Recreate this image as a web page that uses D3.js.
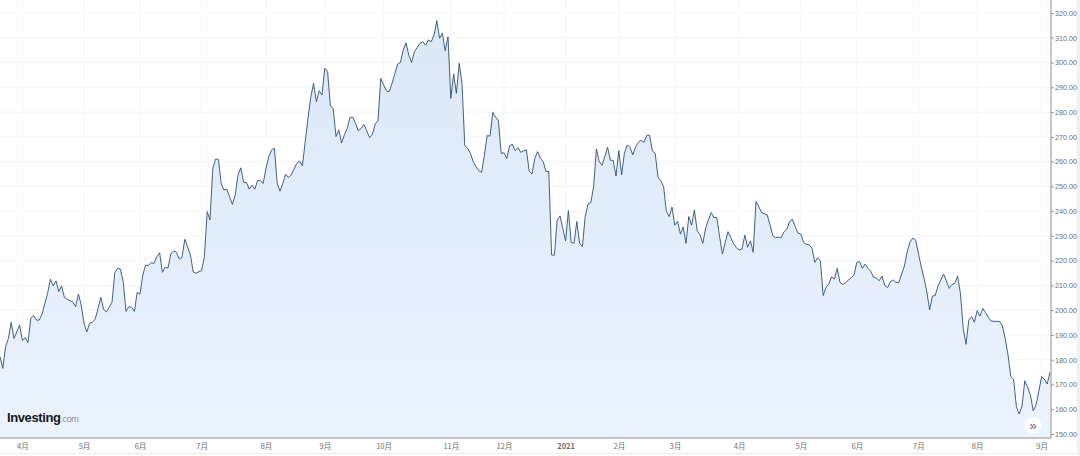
<!DOCTYPE html>
<html>
<head>
<meta charset="utf-8">
<script src="https://cdn.jsdelivr.net/npm/d3@7/dist/d3.min.js"></script>
<style>
    html, body { margin: 0; padding: 0; background: #fff; }
    svg { display: block; font-family: "Liberation Sans", Arial, sans-serif; }
</style>
</head>
<body>
<div id="chartPlaceholder"></div>
<script>
/* one closing price per trading session */
const closes = [
    181.2,176.5,185.3,188.6,195.1,188.6,191.3,194,187.7,188.9,187,196.7,197.8,196,196,198.3,202.8,206.8,212.5,209.8,
    211.8,207.5,209.8,205.2,204.4,203.8,203.4,201.4,206.5,202.1,194.7,191.2,194.7,195.2,196.3,200.7,205.2,200.3,199.3,201.2,
    203.2,215.1,216.9,216.6,211.5,199.5,201.4,201.2,199.5,207.2,206.5,214.2,218.2,218.1,219.2,218.9,221.6,223.2,215.3,217.3,
    217,222.7,223.9,223.4,220.7,221.3,228.6,225.6,222.3,215.5,214.9,215.5,216,221.6,239.8,236.4,257.3,261,260.9,251.2,
    248.5,248.9,245.8,242.7,246.5,254.6,257.5,251.6,251.6,248.9,250.5,248.9,252.3,252.3,251.2,257.3,262,264.7,265.4,251.2,
    248,251.2,254.9,253.6,254.6,257,259.3,260.2,258.3,268,277.5,286.2,291.6,284.2,288.6,286.9,297.7,296.3,282.5,281.5,
    270.1,272.8,267.6,270.8,273.4,277.9,277.9,275.4,272.4,273.4,275,272.4,269.7,271,275.2,276.5,293.6,291,288.6,288.2,
    291.6,295.4,299.4,300,305,308,303,300,304.4,306.1,307.8,308.4,307,309.1,308.4,311.1,316.9,309.8,311.8,304.8,
    310.4,285.5,295.4,287.6,299.7,291.6,266.4,265.4,263.3,260,258,256.3,255.7,262.7,270.5,270.3,279.8,277.9,276.5,263.3,
    263.6,261.3,266.4,267,264.4,265.6,263.7,264.4,264.7,256.2,255,261.3,264,261.3,260,256,256,222.3,222.2,236.4,
    238,233,228,240.2,227.4,227,235.8,227,225.7,237.8,242.9,243.4,249.9,265.1,260,258.5,262,265.8,260.5,260.5,
    254.2,264.4,254.6,263.4,266.7,265.8,262.7,266,267.8,268.6,267.8,270.6,270.6,264.3,263.4,253.7,252.3,249.9,239.8,237.8,
    241.6,234.3,235.9,230.7,233.6,227,237.8,234.3,240.5,232.1,230.4,227,233.1,236.4,239.4,237.4,237.4,229.7,222.7,227.3,
    231.7,229.3,226.8,225.2,224.3,224.7,230.3,225.4,228,223.4,243.9,241.8,239.4,238.9,238.5,234.4,230,229.3,229.5,229.3,231.7,
    232.7,235.8,236.7,233.8,231.1,230.7,227.3,226.6,226.4,225,219.3,221.2,219.9,205.9,209.2,210.6,213.5,212.5,216.9,211.2,
    210.4,211.1,212.2,213.1,214.2,219.3,219.6,216.9,218.6,216.9,215.6,213.3,212.9,211.9,213.8,209.9,209.1,211.5,212.2,211.2,
    211.2,214.6,217.8,223.6,227.5,229.1,228.3,223,217.6,212.9,207.5,200.1,205.7,205.9,209.8,212.2,214.6,211.8,208.8,210.4,
    210.8,213.8,206.8,192.7,186.2,196,197.4,195.1,199.8,197.6,200.7,199,197,195.6,195.5,195.5,195.4,193.6,188.6,181.9,173.2,
    172.1,161,158.1,161.3,171.5,168.9,165.8,159.4,161.7,167.1,173.2,172.1,170.2,174.9
];

/* session index of each month tick and its label */
const monthSessions = [8,30,50,72,95,116,137,161,180,202,221,241,264,286,306,328,349,372];
const monthLabels = ["4月","5月","6月","7月","8月","9月","10月","11月","12月","2021","2月","3月","4月","5月","6月","7月","8月","9月"];
const priceTicks = [150,160,170,180,190,200,210,220,230,240,250,260,270,280,290,300,310,320];

const sizes = { width: 1080, height: 456, right: 1051, bottom: 438 };

const svg = d3.select("#chartPlaceholder")
              .append("svg")
              .attr("width", sizes.width)
              .attr("height", sizes.height);

const x = d3.scaleLinear().domain([0, closes.length - 1]).range([0, 1050]);
const y = d3.scaleLinear().domain([150, 320]).range([434, 13]);

const defs = svg.append("defs");
const grad = defs.append("linearGradient")
                 .attr("id", "areaFill")
                 .attr("gradientUnits", "userSpaceOnUse")
                 .attr("x1", 0).attr("y1", 20)
                 .attr("x2", 0).attr("y2", sizes.bottom);
grad.append("stop").attr("offset", "0%").attr("stop-color", "#dbe8f6");
grad.append("stop").attr("offset", "100%").attr("stop-color", "#eaf3fe");

/* page edge under and right of the chart */
svg.append("line")
   .attr("x1", 0).attr("x2", 1080)
   .attr("y1", 453.5).attr("y2", 453.5)
   .attr("stroke", "#ececec");
svg.append("rect")
   .attr("x", 1077).attr("y", 0)
   .attr("width", 3).attr("height", sizes.height)
   .attr("fill", "#f0f0f0");

/* grid */
svg.append("g")
   .selectAll("line")
   .data(priceTicks)
   .join("line")
   .attr("x1", 0).attr("x2", sizes.right)
   .attr("y1", d => y(d)).attr("y2", d => y(d))
   .attr("stroke", "#f5f5f5");

svg.append("g")
   .selectAll("line")
   .data(monthSessions)
   .join("line")
   .attr("x1", d => x(d)).attr("x2", d => x(d))
   .attr("y1", 0).attr("y2", sizes.bottom)
   .attr("stroke", "#f5f5f5");

/* price area and line */
const area = d3.area()
               .x((d, i) => x(i))
               .y0(sizes.bottom)
               .y1(d => y(d));
const line = d3.line()
               .x((d, i) => x(i))
               .y(d => y(d));

svg.append("path")
   .datum(closes)
   .attr("d", area)
   .attr("fill", "url(#areaFill)");

svg.append("path")
   .datum(closes)
   .attr("d", line)
   .attr("fill", "none")
   .attr("stroke", "#2f4f70")
   .attr("stroke-width", 0.9);

/* axes */
const yAxis = d3.axisRight(y)
                .tickValues(priceTicks)
                .tickSize(3)
                .tickPadding(1)
                .tickFormat(d3.format(".2f"));
const xAxis = d3.axisBottom(x)
                .tickValues(monthSessions)
                .tickSize(0)
                .tickPadding(6)
                .tickFormat((d, i) => monthLabels[i]);

const gy = svg.append("g")
              .attr("transform", `translate(${sizes.right}, 0)`)
              .call(yAxis);
const gx = svg.append("g")
              .attr("transform", `translate(0, ${sizes.bottom})`)
              .call(xAxis);

gy.select(".domain").remove();
gx.select(".domain").remove();
gy.selectAll("line").attr("stroke", "#999");
gy.selectAll("text").attr("fill", "#6e6e6e").attr("font-size", "7.2px");
gx.selectAll("text").attr("fill", "#6e6e6e").attr("font-size", "7.5px")
  .attr("font-family", "'Noto Sans CJK SC', 'Liberation Sans', sans-serif")
  .attr("font-weight", d => monthLabels[monthSessions.indexOf(d)] === "2021" ? "bold" : "normal");

svg.append("line")
   .attr("x1", sizes.right).attr("x2", sizes.right)
   .attr("y1", 0).attr("y2", sizes.bottom)
   .attr("stroke", "#8c8c8c");
svg.append("line")
   .attr("x1", 0).attr("x2", sizes.right)
   .attr("y1", sizes.bottom).attr("y2", sizes.bottom)
   .attr("stroke", "#8c8c8c");

/* logo */
const logo = svg.append("text")
                .attr("x", 7)
                .attr("y", 422)
                .attr("font-size", "13px");
logo.append("tspan")
    .text("Investing")
    .attr("font-weight", "bold")
    .attr("letter-spacing", "-0.4px")
    .attr("fill", "#14171c");
logo.append("tspan")
    .text(".com")
    .attr("font-size", "9px")
    .attr("letter-spacing", "-0.4px")
    .attr("fill", "#8b8b8b");

/* scroll button */
svg.append("circle")
   .attr("cx", 1033).attr("cy", 425.5).attr("r", 8.5)
   .attr("fill", "#fff")
   .attr("fill-opacity", 0.85);
svg.append("text")
   .attr("x", 1033).attr("y", 429.5)
   .attr("text-anchor", "middle")
   .attr("font-size", "13px")
   .attr("fill", "#666")
   .text("»");
</script>
</body>
</html>
